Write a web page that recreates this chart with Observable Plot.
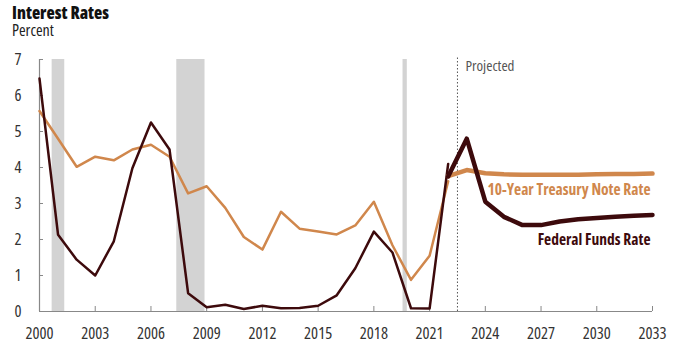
<!DOCTYPE html>
<html>
<head>
<meta charset="utf-8">
<script src="https://cdn.jsdelivr.net/npm/d3@7"></script>
<script src="https://cdn.jsdelivr.net/npm/@observablehq/plot@0.6"></script>
<style>
  body { margin: 0; background: #fff; font-family: "Open Sans", sans-serif; font-stretch: 75%; }
  svg, svg text { font-stretch: 75%; }
  #title { position: absolute; left: 12px; top: 4px; font-size: 17px; font-weight: 800; color: #111; line-height: 17px; }
  #subtitle { position: absolute; left: 12px; top: 21.5px; font-size: 16px; color: #222; line-height: 16px; }
  #chart { position: absolute; left: 0; top: 40px; }
</style>
</head>
<body>
<div id="title">Interest Rates</div>
<div id="subtitle">Percent</div>
<div id="chart"></div>
<script>
const histYears = d3.range(2000, 2023);
const fedHist = [6.47,2.13,1.44,1.0,1.95,3.98,5.25,4.5,0.51,0.12,0.19,0.07,0.16,0.09,0.1,0.16,0.45,1.2,2.22,1.64,0.09,0.08,4.1];
const tsyHist = [5.57,4.8,4.02,4.3,4.2,4.5,4.63,4.3,3.28,3.48,2.88,2.07,1.72,2.77,2.3,2.22,2.14,2.39,3.05,1.84,0.88,1.55,3.62];
const projYears = d3.range(2022, 2034);
const fedProj = [3.75,4.8,3.05,2.63,2.4,2.4,2.5,2.56,2.6,2.63,2.66,2.68];
const tsyProj = [3.76,3.93,3.84,3.81,3.8,3.8,3.8,3.8,3.81,3.82,3.82,3.83];
const recessions = [[2000.68, 2001.36], [2007.39, 2008.91], [2019.57, 2019.8]];
const xTicks = d3.range(2000, 2034, 3);
const yTicks = d3.range(0, 8);
const projectedStart = 2022.5;

const orange = "#d0874c";
const dark = "#3d0a0c";

const hist = histYears.map((y, i) => ({year: y, fed: fedHist[i], tsy: tsyHist[i]}));
const proj = projYears.map((y, i) => ({year: y, fed: fedProj[i], tsy: tsyProj[i]}));
const rec = recessions.map(([a, b]) => ({x1: a, x2: b}));

const plot = Plot.plot({
  width: 679,
  height: 310,
  marginTop: 19,
  marginBottom: 39,
  marginLeft: 39,
  marginRight: 27,
  style: {fontFamily: '"Open Sans", sans-serif', fontSize: "16px", color: "#333", background: "#fff"},
  x: {domain: [2000, 2033]},
  y: {domain: [0, 7]},
  marks: [
    Plot.rectX(rec, {x1: "x1", x2: "x2", y1: 0, y2: 7, fill: "#d3d3d3"}),
    Plot.ruleX([projectedStart], {y1: 0, y2: 7.05, stroke: "#555", strokeWidth: 1, strokeDasharray: "1.5,2"}),
    Plot.text(["Projected"], {x: projectedStart, y: 6.82, dx: 8, textAnchor: "start", fill: "#555", fontSize: 15}),
    Plot.axisX({ticks: xTicks, tickFormat: d => String(d), tickSize: -5, tickPadding: 21, stroke: "#888", fill: "#333", label: null, fontSize: 16.5}),
    Plot.axisY({ticks: yTicks, tickFormat: d => String(d), tickSize: -4, tickPadding: 22, stroke: "#888", fill: "#333", label: null, fontSize: 16.5}),
    Plot.ruleY([0], {stroke: "#888", strokeWidth: 1.2}),
    Plot.ruleX([2000], {y1: 0, y2: 7, stroke: "#888", strokeWidth: 1.2}),
    Plot.line(hist, {x: "year", y: "tsy", stroke: orange, strokeWidth: 2.5}),
    Plot.line(hist, {x: "year", y: "fed", stroke: dark, strokeWidth: 2.5}),
    Plot.line(proj, {x: "year", y: "tsy", stroke: orange, strokeWidth: 4.5}),
    Plot.line(proj, {x: "year", y: "fed", stroke: dark, strokeWidth: 4.5}),
    Plot.text(["10-Year Treasury Note Rate"], {x: 2033, y: 3.38, dx: -2, textAnchor: "end", fill: orange, fontWeight: "bold", fontSize: 15.5}),
    Plot.text(["Federal Funds Rate"], {x: 2033, y: 1.98, dx: -2, textAnchor: "end", fill: dark, fontWeight: "bold", fontSize: 15.5})
  ]
});
document.getElementById("chart").appendChild(plot);
</script>
</body>
</html>
